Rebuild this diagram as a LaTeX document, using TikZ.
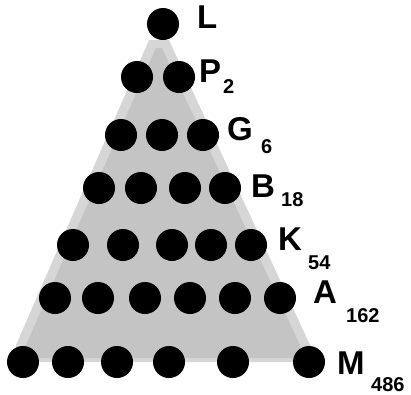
\documentclass[tikz,border=0pt]{standalone}
\usepackage{fontspec}
\setmainfont{Liberation Sans}
\definecolor{outergray}{HTML}{D6D6D6}
\definecolor{innergray}{HTML}{C4C4C4}
\begin{document}
\begin{tikzpicture}[x=1pt,y=-1pt,
  dot/.style={circle,fill=black,minimum size=32pt,inner sep=0pt},
  lab/.style={anchor=base west,inner sep=0pt,font=\fontsize{33}{33}\selectfont\bfseries},
  sub/.style={anchor=base west,inner sep=0pt,font=\fontsize{20}{20}\selectfont\bfseries}]
\useasboundingbox (0,0) rectangle (411,394);
\fill[outergray] (149,40) -- (169,40) -- (310,345) -- (310,362) -- (16,362) -- (16,345) -- cycle;
\fill[innergray] (156,48) -- (162,48) -- (300,345) -- (300,358) -- (26,358) -- (26,345) -- cycle;
% row 1
\node[dot] (l1) at (163,24) {};
% row 2
\node[dot] (p1) at (137,77) {};
\node[dot] (p2) at (179,77) {};
% row 3
\node[dot] (g1) at (121,135) {};
\node[dot] (g2) at (162,135) {};
\node[dot] (g3) at (203,135) {};
% row 4
\node[dot] (b1) at (99,188) {};
\node[dot] (b2) at (141,188) {};
\node[dot] (b3) at (185,188) {};
\node[dot] (b4) at (225,188) {};
% row 5
\node[dot] (k1) at (73,245) {};
\node[dot] (k2) at (123,245) {};
\node[dot] (k3) at (172,245) {};
\node[dot] (k4) at (211,245) {};
\node[dot] (k5) at (251,245) {};
% row 6
\node[dot] (a1) at (55,298) {};
\node[dot] (a2) at (98,298) {};
\node[dot] (a3) at (145,298) {};
\node[dot] (a4) at (190,298) {};
\node[dot] (a5) at (235,298) {};
\node[dot] (a6) at (280,298) {};
% row 7
\node[dot] (m1) at (23,362) {};
\node[dot] (m2) at (68,362) {};
\node[dot] (m3) at (117,362) {};
\node[dot] (m4) at (169,362) {};
\node[dot] (m5) at (233,362) {};
\node[dot] (m6) at (309,362) {};
% labels
\node[lab] (tl) at (197,28) {L};
\node[lab] (tp) at (199,82) {P};
\node[sub] (sp) at (223,93) {2};
\node[lab] (tg) at (227,140) {G};
\node[sub] (sg) at (261,153) {6};
\node[lab] (tb) at (251,197) {B};
\node[sub] (sb) at (281,206) {18};
\node[lab] (tk) at (278,250) {K};
\node[sub] (sk) at (308,269) {54};
\node[lab] (ta) at (313,303) {A};
\node[sub] (sa) at (346,322) {162};
\node[lab] (tm) at (337,374) {M};
\node[sub] (sm) at (371,391) {486};
\end{tikzpicture}
\end{document}
